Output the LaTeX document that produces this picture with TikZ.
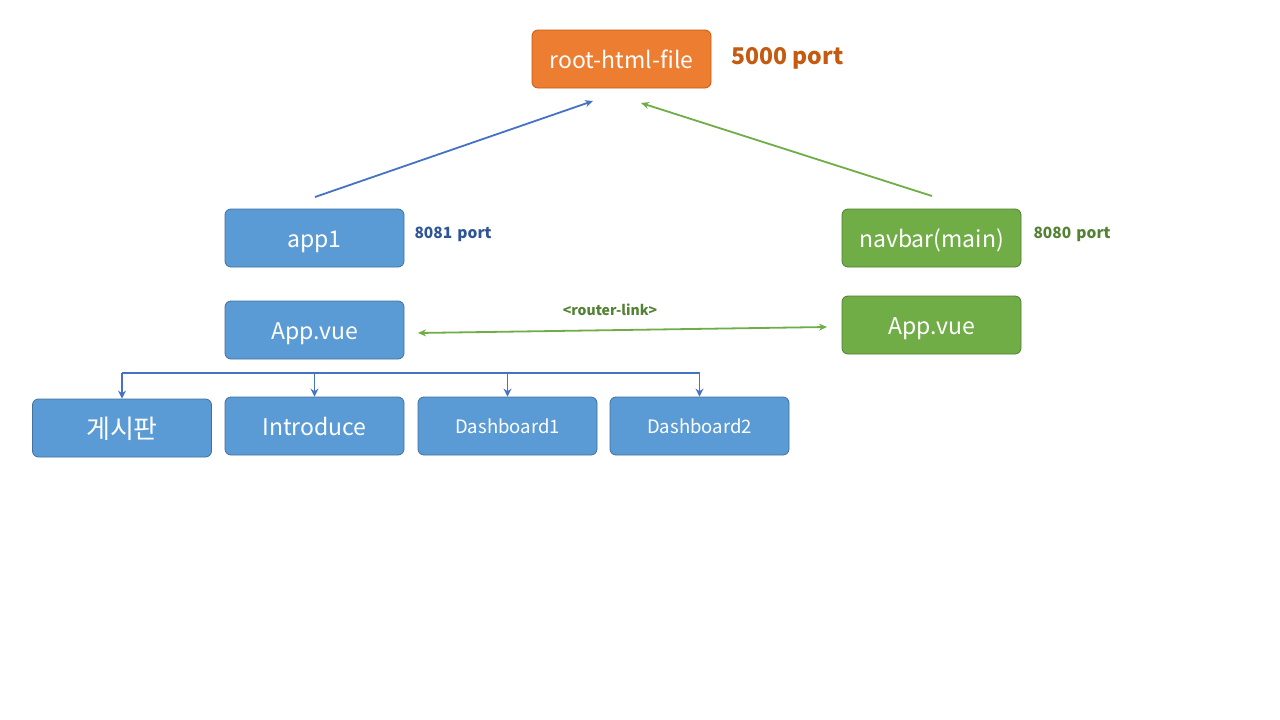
\documentclass[tikz,border=0pt]{standalone}
\usepackage{fontspec}
\setmainfont{Noto Sans CJK KR}
\usetikzlibrary{arrows.meta}
\definecolor{cblue}{HTML}{5B9BD5}
\definecolor{cblueb}{HTML}{41719C}
\definecolor{cgreen}{HTML}{70AD47}
\definecolor{cgreenb}{HTML}{507E32}
\definecolor{corange}{HTML}{ED7D31}
\definecolor{coranget}{HTML}{C55A11}
\definecolor{cbluel}{HTML}{4472C4}
\definecolor{cbluet}{HTML}{2F5597}
\definecolor{cgreent}{HTML}{548235}
\tikzset{
  boxbase/.style={rounded corners=6pt, minimum width=179pt, minimum height=58pt, text=white, line width=0.8pt, inner sep=0pt},
  bluebox/.style={boxbase, fill=cblue, draw=cblueb},
  greenbox/.style={boxbase, fill=cgreen, draw=cgreenb},
  orangebox/.style={boxbase, fill=corange, draw=coranget},
  big/.style={font=\fontsize{23}{26}\selectfont, text height=19pt, text depth=0pt},
  small/.style={font=\fontsize{18.5}{21}\selectfont, text height=14pt, text depth=0pt},
  kor/.style={font=\fontsize{26}{28}\selectfont, text height=20pt, text depth=0pt},
  portlbl/.style={font=\bfseries\fontsize{15.5}{18}\selectfont, anchor=west},
  tip/.style={-{Stealth[length=8pt,width=7pt]}},
}
\begin{document}
\begin{tikzpicture}[x=1pt,y=-1pt]
\useasboundingbox[fill=white] (0,0) rectangle (1280,720);

\node[orangebox, big] (root) at (621.5,59) {root-html-file};
\node[font=\bfseries\fontsize{23}{26}\selectfont, text=coranget, anchor=west] (p5000) at (728,58) {5000 port};

\node[bluebox, big] (app1) at (314.5,238) {app1};
\node[portlbl, text=cbluet] (p8081) at (411,234) {8081\,\,port};
\node[greenbox, big] (navbar) at (931.5,238) {navbar(main)};
\node[portlbl, text=cgreent] (p8080) at (1030,234) {8080\,\,port};

\node[bluebox, big] (appvueL) at (314.5,330) {App.vue};
\node[greenbox, big] (appvueR) at (931.5,325) {App.vue};

\node[bluebox, kor] (b1) at (122,428) {게시판};
\node[bluebox, big] (b2) at (314.5,426) {Introduce};
\node[bluebox, small] (b3) at (507.5,426) {Dashboard1};
\node[bluebox, small] (b4) at (699.5,426) {Dashboard2};

% arrows to root
\coordinate (a1s) at (315,197);
\coordinate (a1e) at (593,101);
\coordinate (a2s) at (932,196);
\coordinate (a2e) at (641,103);
\draw[cbluel, line width=1.8pt, tip] (a1s) -- (a1e);
\draw[cgreen, line width=1.8pt, tip] (a2s) -- (a2e);

% router link
\coordinate (rlL) at (418,333);
\coordinate (rlR) at (827,327);
\draw[cgreen, line width=1.8pt, {Stealth[length=8pt,width=7pt]}-{Stealth[length=8pt,width=7pt]}] (rlL) -- (rlR);
\node[font=\bfseries\fontsize{14}{16}\selectfont, text=cgreent] (rl) at (610,310) {<router-link>};

% tree
\coordinate (bus) at (0,373);
\draw[cbluel, line width=1.8pt] (b1.north |- bus) -- (b4.north |- bus);
\foreach \b in {b1,b2,b3,b4}
  \draw[cbluel, line width=1.8pt, -{Stealth[length=8pt,width=8pt]}] (\b.north |- bus) -- (\b.north);
\end{tikzpicture}
\end{document}
